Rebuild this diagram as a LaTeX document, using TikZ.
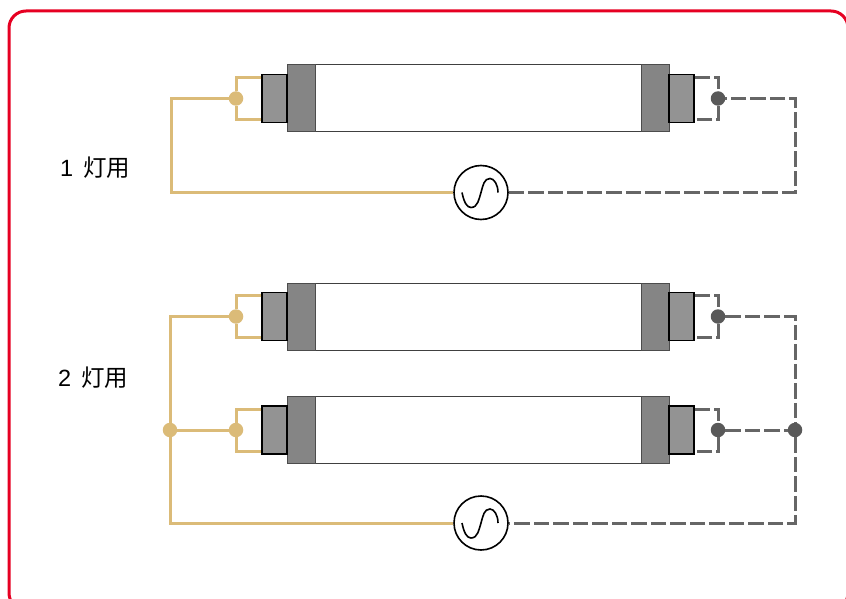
\documentclass[tikz,border=0pt]{standalone}
\usepackage{fontspec}
\setmainfont{Liberation Sans}
\newfontfamily\cjk{Noto Sans CJK JP}
\usetikzlibrary{calc}
\definecolor{wirehot}{HTML}{DBBB78}
\definecolor{wirecold}{HTML}{666666}
\definecolor{dotcold}{HTML}{595959}
\definecolor{framered}{HTML}{E60022}
\definecolor{capgray}{HTML}{858585}
\definecolor{basegray}{HTML}{939393}
\tikzset{
  tube/.style={draw=black!75,line width=1pt,fill=white,minimum width=327pt,minimum height=67pt,inner sep=0pt},
  capend/.style={draw=black!70,line width=1pt,fill=capgray,minimum width=28pt,minimum height=67pt,inner sep=0pt},
  pinbase/.style={draw=black,line width=1.1pt,fill=basegray,minimum width=25pt,minimum height=48pt,inner sep=0pt},
  hotdot/.style={circle,fill=wirehot,minimum size=14.5pt,inner sep=0pt},
  colddot/.style={circle,fill=dotcold,minimum size=14.5pt,inner sep=0pt},
  hot/.style={draw=wirehot,line width=3pt},
  cold/.style={draw=wirecold,line width=3pt,dash pattern=on 15.5pt off 4pt},
  source/.style={circle,draw=black,line width=1.6pt,fill=white,minimum size=54pt,inner sep=0pt},
  caption/.style={font=\fontsize{23.5}{28}\selectfont,inner sep=0pt}
}
% one lamp: name, y of its axis
\newcommand{\lamp}[2]{
  \node[tube] (#1t) at (478,#2) {};
  \node[capend] (#1a) at (301,#2) {};
  \node[capend] (#1b) at (655,#2) {};
  \node[pinbase] (#1c) at (274.5,#2) {};
  \node[pinbase] (#1d) at (681.5,#2) {};
  \node[hotdot] (#1l) at (236,#2) {};
  \node[colddot] (#1r) at (718,#2) {};
  %the two pins of each end
  \draw[hot] ($(#1c.west)+(0,-21)$) -| (#1l) |- ($(#1c.west)+(0,21)$);
  \draw[cold] ($(#1d.east)+(0,-21)$) -| (#1r) |- ($(#1d.east)+(0,21)$);
}
% the wave inside a source
\newcommand{\wave}[1]{
  \draw[black,line width=1.6pt] ($(#1.center)+(-19,0)$) .. controls ($(#1.center)+(-17,10)$) and ($(#1.center)+(-14,15)$) .. ($(#1.center)+(-10,15)$)
    .. controls ($(#1.center)+(-3,15)$) and ($(#1.center)+(-2,6)$) .. (#1.center)
    .. controls ($(#1.center)+(2,-7)$) and ($(#1.center)+(3,-14)$) .. ($(#1.center)+(9,-14)$)
    .. controls ($(#1.center)+(13,-14)$) and ($(#1.center)+(17,-8)$) .. ($(#1.center)+(17,0)$);
}
\begin{document}
\begin{tikzpicture}[x=1pt,y=-1pt]
  \useasboundingbox (0,0) rectangle (846,599);
  \draw[framered,line width=3pt,rounded corners=17pt] (9,11) rectangle (848,610);
  %one lamp
  \node[caption,anchor=west] (one) at (60,168) {1\hspace{10pt}{\cjk 灯用}};
  \lamp{p}{98.5}
  \node[source] (ac1) at (481,192.5) {};
  \wave{ac1}
  \draw[hot] (pl) -- (171,98.5) |- (ac1);
  \draw[cold] (ac1) -| (795,98.5) -- (pr);
  %two lamps
  \node[caption,anchor=west] (two) at (58,378) {2\hspace{10pt}{\cjk 灯用}};
  \lamp{q}{316.5}
  \lamp{s}{430}
  \node[source] (ac2) at (481,523) {};
  \wave{ac2}
  \node[hotdot] (jl) at (170,430) {};
  \node[colddot] (jr) at (795,430) {};
  \draw[hot] (ql) -| (jl) |- (ac2);
  \draw[hot] (jl) -- (sl);
  \draw[cold] (qr) -| (jr) |- (ac2);
  \draw[cold] (sr) -- (jr);
\end{tikzpicture}
\end{document}
